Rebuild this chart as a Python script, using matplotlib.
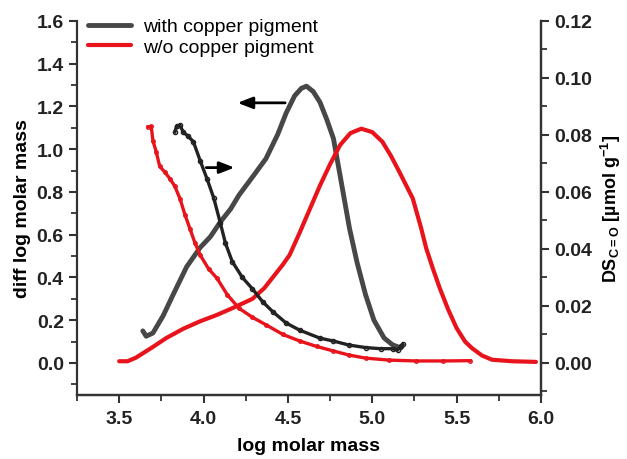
import matplotlib
matplotlib.use("Agg")
import matplotlib.pyplot as plt
from matplotlib.ticker import MultipleLocator

plt.rcParams["font.family"] = ["Liberation Sans", "DejaVu Sans"]

# thick curves, left axis (diff log molar mass)
cu_x = [3.64, 3.66, 3.70, 3.76, 3.82, 3.90, 3.98, 4.04, 4.10, 4.16, 4.21, 4.29,
        4.37, 4.44, 4.49, 4.54, 4.58, 4.61, 4.65, 4.69, 4.73, 4.77, 4.82, 4.865,
        4.91, 4.96, 5.01, 5.07, 5.12, 5.17]
cu_y = [0.15, 0.125, 0.14, 0.22, 0.32, 0.45, 0.54, 0.59, 0.66, 0.72, 0.785, 0.87,
        0.956, 1.07, 1.17, 1.25, 1.285, 1.295, 1.27, 1.22, 1.14, 1.05, 0.83, 0.63,
        0.47, 0.32, 0.20, 0.117, 0.085, 0.07]

nocu_x = [3.50, 3.55, 3.60, 3.70, 3.78, 3.88, 3.98, 4.08, 4.17, 4.29, 4.36, 4.41,
          4.47, 4.51, 4.57, 4.63, 4.69, 4.75, 4.81, 4.87, 4.935, 5.00, 5.06, 5.11,
          5.16, 5.24, 5.29, 5.32, 5.36, 5.40, 5.45, 5.50, 5.55, 5.59, 5.65, 5.71,
          5.83, 5.97]
nocu_y = [0.008, 0.008, 0.025, 0.075, 0.117, 0.16, 0.195, 0.225, 0.256, 0.30, 0.35,
          0.40, 0.46, 0.505, 0.61, 0.72, 0.83, 0.93, 1.02, 1.075, 1.096, 1.08, 1.035,
          0.97, 0.895, 0.77, 0.63, 0.536, 0.44, 0.35, 0.25, 0.163, 0.10, 0.07, 0.035,
          0.015, 0.008, 0.005]

# thin curves with markers, right axis (DS C=O)
ds_cu_x = [3.83, 3.84, 3.86, 3.88, 3.91, 3.94, 3.98, 4.02, 4.06, 4.10, 4.13, 4.17,
           4.23, 4.29, 4.35, 4.41, 4.49, 4.57, 4.69, 4.77, 4.86, 4.96, 5.05, 5.12,
           5.15, 5.17, 5.18]
ds_cu_y = [0.0811, 0.083, 0.0834, 0.081, 0.0795, 0.0776, 0.071, 0.0647, 0.058,
           0.049, 0.042, 0.0356, 0.030, 0.026, 0.0215, 0.018, 0.014, 0.0115, 0.0087,
           0.0077, 0.0063, 0.0054, 0.005, 0.005, 0.0045, 0.006, 0.0065]

ds_nocu_x = [3.67, 3.69, 3.70, 3.72, 3.74, 3.77, 3.80, 3.83, 3.86, 3.89, 3.92, 3.95,
             3.98, 4.03, 4.08, 4.14, 4.21, 4.29, 4.37, 4.47, 4.57, 4.67, 4.77, 4.86,
             4.96, 5.10, 5.26, 5.42, 5.58]
ds_nocu_y = [0.0828, 0.083, 0.078, 0.074, 0.069, 0.067, 0.0647, 0.062, 0.0577, 0.052,
             0.047, 0.042, 0.0379, 0.033, 0.0297, 0.024, 0.0192, 0.016, 0.0134, 0.010,
             0.0077, 0.0058, 0.0042, 0.0028, 0.0017, 0.001, 0.0007, 0.0007, 0.0008]

gray = "#474747"
red = "#e8131b"
axc = "#333333"

fig = plt.figure(figsize=(6.27, 4.6), dpi=100)
ax = fig.add_axes([0.1228, 0.1391, 0.7400, 0.8131])
ax2 = ax.twinx()

ax.plot(cu_x, cu_y, color=gray, lw=3.5, label="with copper pigment", solid_capstyle="round")
ax.plot(nocu_x, nocu_y, color=red, lw=3, label="w/o copper pigment", solid_capstyle="round")

ax2.plot(ds_cu_x, ds_cu_y, color="#222222", lw=2.4, marker="o", ms=3, mfc="none", mew=1)
ax2.plot(ds_nocu_x, ds_nocu_y, color=red, lw=2.4, marker="o", ms=2.5, mfc="none", mew=1)

ax.set_xlim(3.25, 6.0)
ax.set_ylim(-0.15, 1.6)
ax2.set_ylim(-0.01125, 0.12)

ax.xaxis.set_major_locator(MultipleLocator(0.5))
ax.xaxis.set_minor_locator(MultipleLocator(0.25))
ax.yaxis.set_major_locator(MultipleLocator(0.2))
ax.yaxis.set_minor_locator(MultipleLocator(0.1))
ax2.yaxis.set_major_locator(MultipleLocator(0.02))
ax2.yaxis.set_minor_locator(MultipleLocator(0.01))
ax.xaxis.set_major_formatter(plt.FormatStrFormatter("%.1f"))
ax.yaxis.set_major_formatter(plt.FormatStrFormatter("%.1f"))
ax2.yaxis.set_major_formatter(plt.FormatStrFormatter("%.2f"))

for a in (ax, ax2):
    a.spines["top"].set_visible(False)
    for s in ("left", "right", "bottom"):
        a.spines[s].set_linewidth(1.6)
        a.spines[s].set_color(axc)
    a.tick_params(which="major", length=6, width=1.5, color=axc, labelsize=14, direction="out")
    a.tick_params(which="minor", length=4, width=1.3, color=axc, direction="out")
ax.tick_params(axis="x", pad=5)
ax2.spines["left"].set_visible(False)

for lab in ax.get_xticklabels() + ax.get_yticklabels() + ax2.get_yticklabels():
    lab.set_fontweight("bold")
    lab.set_color("#222222")

ax.set_xlabel("log molar mass", fontsize=14, fontweight="bold", labelpad=7)
ax.set_ylabel("diff log molar mass", fontsize=14, fontweight="bold", labelpad=4)
ax2.set_ylabel(r"DS$_{\mathregular{C=O}}$ [µmol g$^{\mathregular{-1}}$]", fontsize=13,
               fontweight="bold", labelpad=5)

ax.annotate("", xy=(4.185, 1.217), xytext=(4.50, 1.217),
            arrowprops=dict(arrowstyle="-|>,head_length=0.9,head_width=0.35", color="black", lw=2))
ax.annotate("", xy=(4.20, 0.914), xytext=(4.00, 0.914),
            arrowprops=dict(arrowstyle="-|>,head_length=0.9,head_width=0.35", color="black", lw=2))

leg = ax.legend(loc="upper left", bbox_to_anchor=(-0.005, 1.045), frameon=False, fontsize=14,
                handlelength=2.2, handletextpad=0.6, labelspacing=0.15, borderaxespad=0.3)

fig.savefig("out.png", dpi=100)
